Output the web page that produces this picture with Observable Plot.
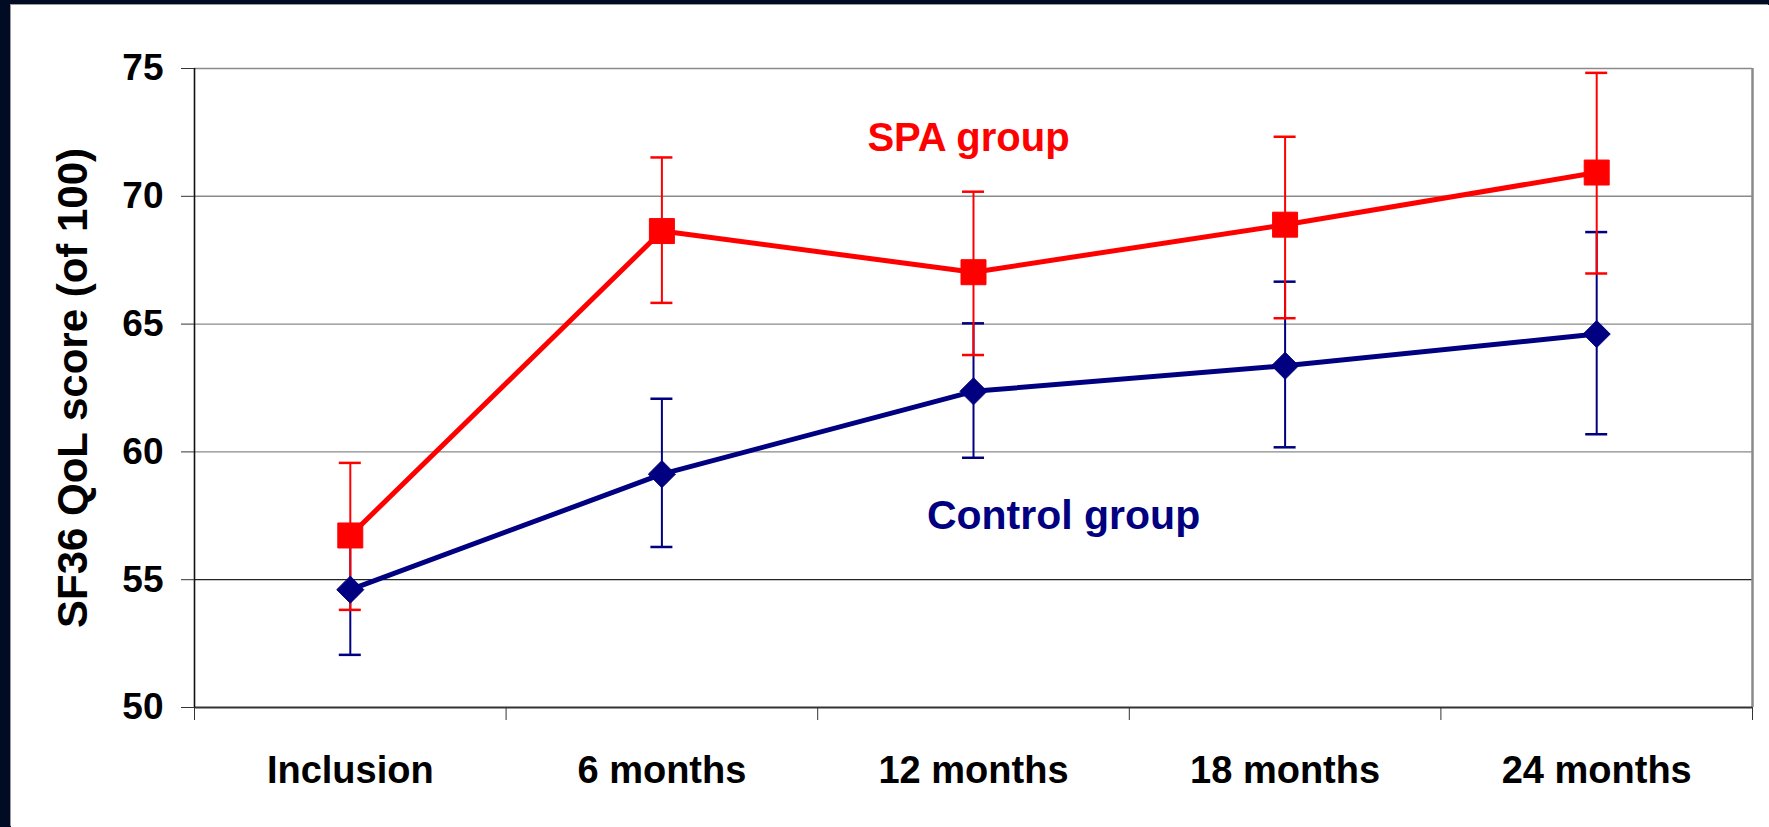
<!DOCTYPE html>
<html><head><meta charset="utf-8">
<script src="https://cdn.jsdelivr.net/npm/d3@7"></script>
<script src="https://cdn.jsdelivr.net/npm/@observablehq/plot@0.6"></script>
<style>
html,body{margin:0;padding:0;background:#020b24;width:1769px;height:827px;overflow:hidden;}
#wrap{position:absolute;left:11px;top:5px;width:1758px;height:822px;background:#fff;box-shadow:-1px -1px 0 #9a9a9a;}
svg{display:block;}
</style></head><body><div id="wrap"></div>
<script>
const categories = ["Inclusion", "6 months", "12 months", "18 months", "24 months"];
const spaMean  = [56.73, 68.64, 67.03, 68.89, 70.93];
const spaUpper = [59.57, 71.52, 70.18, 72.33, 74.83];
const spaLower = [53.82, 65.83, 63.79, 65.23, 66.98];
const ctlMean  = [54.61, 59.13, 62.37, 63.37, 64.61];
const ctlUpper = [57.16, 62.08, 65.03, 66.66, 68.60];
const ctlLower = [52.06, 56.28, 59.77, 60.18, 60.69];
const yTicks = [50, 55, 60, 65, 70, 75];
const yTitle = "SF36 QoL score (of 100)";
const annotations = [
  {label: "SPA group", i: 1.984, v: 71.78, color: "#ff0000", size: 40},
  {label: "Control group", i: 2.289, v: 57.0, color: "#000080", size: 41}
];

const W = 1758, H = 822, mL = 183, mR = 17, mT = 63, mB = 120;
const unitPx = (W - mL - mR) / categories.length;
const capHalf = 11 / unitPx;

const spa = categories.map((c, i) => ({i, cat: c, mean: spaMean[i], lo: spaLower[i], hi: spaUpper[i]}));
const ctl = categories.map((c, i) => ({i, cat: c, mean: ctlMean[i], lo: ctlLower[i], hi: ctlUpper[i]}));
const centers = categories.map((c, i) => i);
const bounds = d3.range(categories.length + 1).map(k => k - 0.5);

const RED = "#ff0000", NAVY = "#000080";

function errorMarks(data, color) {
  return [
    Plot.ruleX(data, {x: "i", y1: "lo", y2: "hi", stroke: color, strokeWidth: 2}),
    Plot.ruleY(data, {y: "lo", x1: d => d.i - capHalf, x2: d => d.i + capHalf, stroke: color, strokeWidth: 2.5}),
    Plot.ruleY(data, {y: "hi", x1: d => d.i - capHalf, x2: d => d.i + capHalf, stroke: color, strokeWidth: 2.5})
  ];
}

const chart = Plot.plot({
  width: W, height: H,
  marginLeft: mL, marginRight: mR, marginTop: mT, marginBottom: mB,
  style: {fontFamily: "'Liberation Sans', Arial, sans-serif", fontWeight: "bold", background: "white", overflow: "visible"},
  x: {type: "linear", domain: [-0.5, categories.length - 0.5]},
  y: {domain: [50, 75]},
  marks: [
    Plot.ruleY([60, 65, 70, 75], {stroke: "#8a8a8a", strokeWidth: 1.4}),
    Plot.ruleY([55], {stroke: "#222", strokeWidth: 1.2}),
    Plot.ruleX([categories.length - 0.5], {stroke: "#8a8a8a", strokeWidth: 2.5}),
    Plot.ruleY([50], {stroke: "#333", strokeWidth: 2}),
    Plot.ruleX([-0.5], {stroke: "#111", strokeWidth: 1.6}),
    Plot.axisY({ticks: yTicks, tickSize: 13, tickPadding: 18, fontSize: 37, label: null, stroke: "#333"}),
    Plot.axisX({ticks: centers, tickSize: 0, tickPadding: 49, fontSize: 38, label: null, tickFormat: i => categories[i]}),
    Plot.axisX({ticks: bounds, tickSize: 13, tickFormat: () => "", label: null, stroke: "#333"}),
    ...errorMarks(ctl, NAVY),
    ...errorMarks(spa, RED),
    Plot.line(ctl, {x: "i", y: "mean", stroke: NAVY, strokeWidth: 5}),
    Plot.line(spa, {x: "i", y: "mean", stroke: RED, strokeWidth: 5}),
    Plot.dot(ctl, {x: "i", y: "mean", symbol: "diamond2", r: 12.2, fill: NAVY, stroke: NAVY, strokeWidth: 1}),
    Plot.dot(spa, {x: "i", y: "mean", symbol: "square", r: 14.1, fill: RED, stroke: RED, strokeWidth: 1}),
    Plot.text(annotations, {x: "i", y: "v", text: "label", fill: d => d.color, fontSize: d => d.size, textAnchor: "middle", lineAnchor: "bottom"}),
    Plot.text([yTitle], {frameAnchor: "left", rotate: -90, dx: -137, text: d => d, fontSize: 42, textAnchor: "middle", lineAnchor: "top", fill: "black"})
  ]
});
document.getElementById("wrap").appendChild(chart);
</script>
</body></html>
